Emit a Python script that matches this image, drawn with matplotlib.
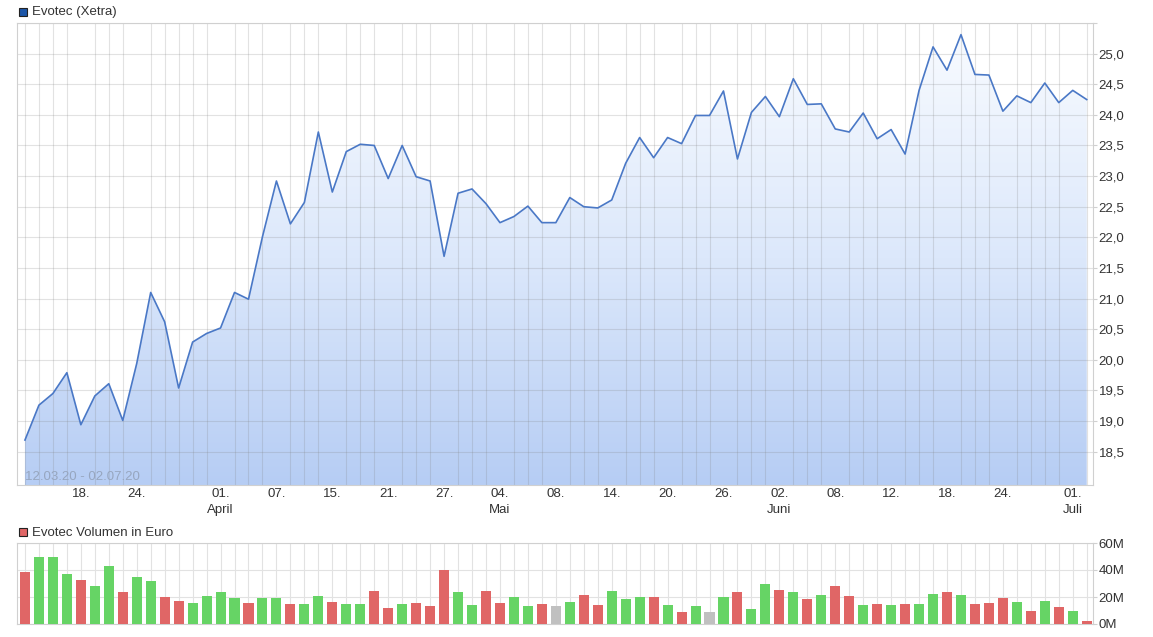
import numpy as np
import pandas as pd
import matplotlib
matplotlib.use("Agg")
import matplotlib.pyplot as plt
from matplotlib.colors import LinearSegmentedColormap
from matplotlib.patches import Polygon, Rectangle

plt.rcParams['font.family'] = ['Liberation Sans', 'DejaVu Sans']

# Schlusskurse Evotec (Xetra), 12.03.20 - 02.07.20
close = [18.69, 19.26, 19.45, 19.79, 18.94, 19.41, 19.61, 19.01, 19.94, 21.10,
         20.62, 19.54, 20.29, 20.43, 20.52, 21.10, 20.99, 22.01, 22.92, 22.22,
         22.57, 23.72, 22.74, 23.40, 23.52, 23.50, 22.96, 23.50, 22.99, 22.92,
         21.69, 22.72, 22.79, 22.55, 22.24, 22.34, 22.51, 22.24, 22.24, 22.65,
         22.50, 22.48, 22.61, 23.21, 23.63, 23.30, 23.63, 23.53, 23.99, 23.99,
         24.39, 23.28, 24.04, 24.30, 23.97, 24.59, 24.17, 24.18, 23.77, 23.72,
         24.03, 23.61, 23.76, 23.36, 24.40, 25.11, 24.73, 25.31, 24.66, 24.65,
         24.06, 24.31, 24.20, 24.52, 24.20, 24.40, 24.25]
prev_close = 19.90  # 11.03.20, geschaetzt (erster Balken rot)

# Volumen in Mio. Euro
volume_m = [38.8, 49.5, 49.5, 37.0, 32.8, 28.0, 43.2, 23.5, 34.5, 31.8,
            20.0, 17.2, 15.5, 20.8, 23.5, 19.2, 15.5, 19.2, 19.2, 14.5,
            14.5, 20.8, 16.5, 14.5, 14.5, 24.5, 12.0, 14.5, 15.5, 13.0,
            40.0, 23.5, 13.8, 24.5, 15.5, 20.0, 13.0, 14.5, 13.0, 16.5,
            21.8, 13.8, 24.5, 18.2, 20.0, 20.0, 13.8, 9.2, 13.0, 9.2,
            20.0, 23.5, 11.0, 29.8, 25.5, 23.5, 18.2, 21.8, 28.0, 20.8,
            13.8, 14.5, 13.8, 14.5, 14.5, 22.5, 23.5, 21.8, 14.5, 15.5,
            19.2, 16.5, 10.0, 17.2, 12.8, 10.0, 2.0]

holidays = ['2020-04-10', '2020-04-13', '2020-05-01', '2020-06-01']
dates = pd.bdate_range('2020-03-12', '2020-07-02', freq='C', holidays=holidays)

tick_dates = ['2020-03-18', '2020-03-24', '2020-04-01', '2020-04-07', '2020-04-15',
              '2020-04-21', '2020-04-27', '2020-05-04', '2020-05-08', '2020-05-14',
              '2020-05-20', '2020-05-26', '2020-06-02', '2020-06-08', '2020-06-12',
              '2020-06-18', '2020-06-24', '2020-07-01']
tick_labels = ['18.', '24.', '01.\nApril', '07.', '15.', '21.', '27.', '04.\nMai', '08.',
               '14.', '20.', '26.', '02.\nJuni', '08.', '12.', '18.', '24.', '01.\nJuli']
price_ticks = [18.5, 19.0, 19.5, 20.0, 20.5, 21.0, 21.5, 22.0, 22.5, 23.0, 23.5, 24.0, 24.5, 25.0]
volume_ticks = [0, 20, 40, 60]

x = np.arange(len(close))
tick_pos = dates.get_indexer(pd.to_datetime(tick_dates))

W, H = 1153, 637
fig = plt.figure(figsize=(W / 100, H / 100), dpi=100)

def px_axes(l, t, r, b):
    return fig.add_axes([l / W, 1 - b / H, (r - l) / W, (b - t) / H])

ax = px_axes(17, 23, 1093, 485)
axv = px_axes(17, 543, 1093, 624)

xmin, xmax = -0.57, len(close) - 0.55
ymin, ymax = 17.956, 25.5
grid_col = '#e2e2e2'
spine_col = '#d0d0d0'
text_col = '#333333'
fs = 9.5

# --- Kurs ---
ax.set_xlim(xmin, xmax)
ax.set_ylim(ymin, ymax)
cmap = LinearSegmentedColormap.from_list('fill', ['#b6cdf4', '#dce8fb', '#f8fbff'])
grad = np.linspace(0, 1, 256).reshape(-1, 1)
im = ax.imshow(grad, aspect='auto', cmap=cmap, origin='lower',
               extent=[xmin, xmax, ymin, 25.35], zorder=1)
verts = [(x[0], ymin)] + list(zip(x, close)) + [(x[-1], ymin)]
area = Polygon(verts, closed=True, facecolor='none', edgecolor='none')
ax.add_patch(area)
im.set_clip_path(area)
ax.plot(x, close, color='#4a78c6', lw=1.2, zorder=4)

ax.set_xticks(x, minor=True)
ax.set_xticks(tick_pos)
ax.set_xticklabels(tick_labels)
ax.set_yticks(price_ticks + [25.5])
ax.set_yticklabels([f"{v:.1f}".replace('.', ',') for v in price_ticks] + [''])
ax.grid(which='minor', axis='x', color='#7f7f7f', alpha=0.22, lw=0.8, zorder=3)
ax.grid(which='major', axis='y', color='#7f7f7f', alpha=0.22, lw=0.8, zorder=3)
ax.yaxis.tick_right()
ax.tick_params(axis='y', length=3, pad=1, color=spine_col, labelsize=fs, labelcolor=text_col)
ax.tick_params(axis='x', which='major', length=0, pad=2.5, labelsize=fs, labelcolor=text_col)
ax.tick_params(axis='x', which='minor', length=0)
for lab in ax.get_xticklabels():
    lab.set_linespacing(1.4)
for s in ax.spines.values():
    s.set_color(spine_col)
    s.set_linewidth(0.8)

ax.text(x[0], 17.99, '12.03.20 - 02.07.20', color='#97a6bf', fontsize=fs,
        ha='left', va='bottom', zorder=5)

# --- Volumen ---
changes = np.diff([prev_close] + close)
bar_cols = ['#66d465' if c > 0 else '#e06666' if c < 0 else '#c0c0c0' for c in changes]
axv.set_xlim(xmin, xmax)
axv.set_ylim(0, 60)
axv.bar(x, volume_m, width=0.72, color=bar_cols, zorder=3)
axv.set_xticks(x, minor=True)
axv.set_xticks([])
axv.set_yticks(volume_ticks)
axv.set_yticklabels([f"{v}M" for v in volume_ticks])
axv.grid(which='minor', axis='x', color=grid_col, lw=0.8, zorder=1)
axv.grid(which='major', axis='y', color=grid_col, lw=0.8, zorder=1)
axv.yaxis.tick_right()
axv.tick_params(axis='y', length=3, pad=1, color=spine_col, labelsize=fs, labelcolor=text_col)
axv.tick_params(axis='x', which='both', length=0)
for s in axv.spines.values():
    s.set_color(spine_col)
    s.set_linewidth(0.8)

# --- Legenden ---
def legend(y_top, face, label):
    fig.add_artist(Rectangle((19 / W, 1 - (y_top + 8) / H), 8 / W, 8 / H,
                             facecolor=face, edgecolor='#222222', lw=0.8,
                             transform=fig.transFigure))
    fig.text(32 / W, 1 - (y_top + 4.5) / H, label, fontsize=fs, color=text_col,
             ha='left', va='center')

legend(8, '#1c56a8', 'Evotec (Xetra)')
legend(528, '#e06666', 'Evotec Volumen in Euro')

fig.savefig('out.png', dpi=100)
